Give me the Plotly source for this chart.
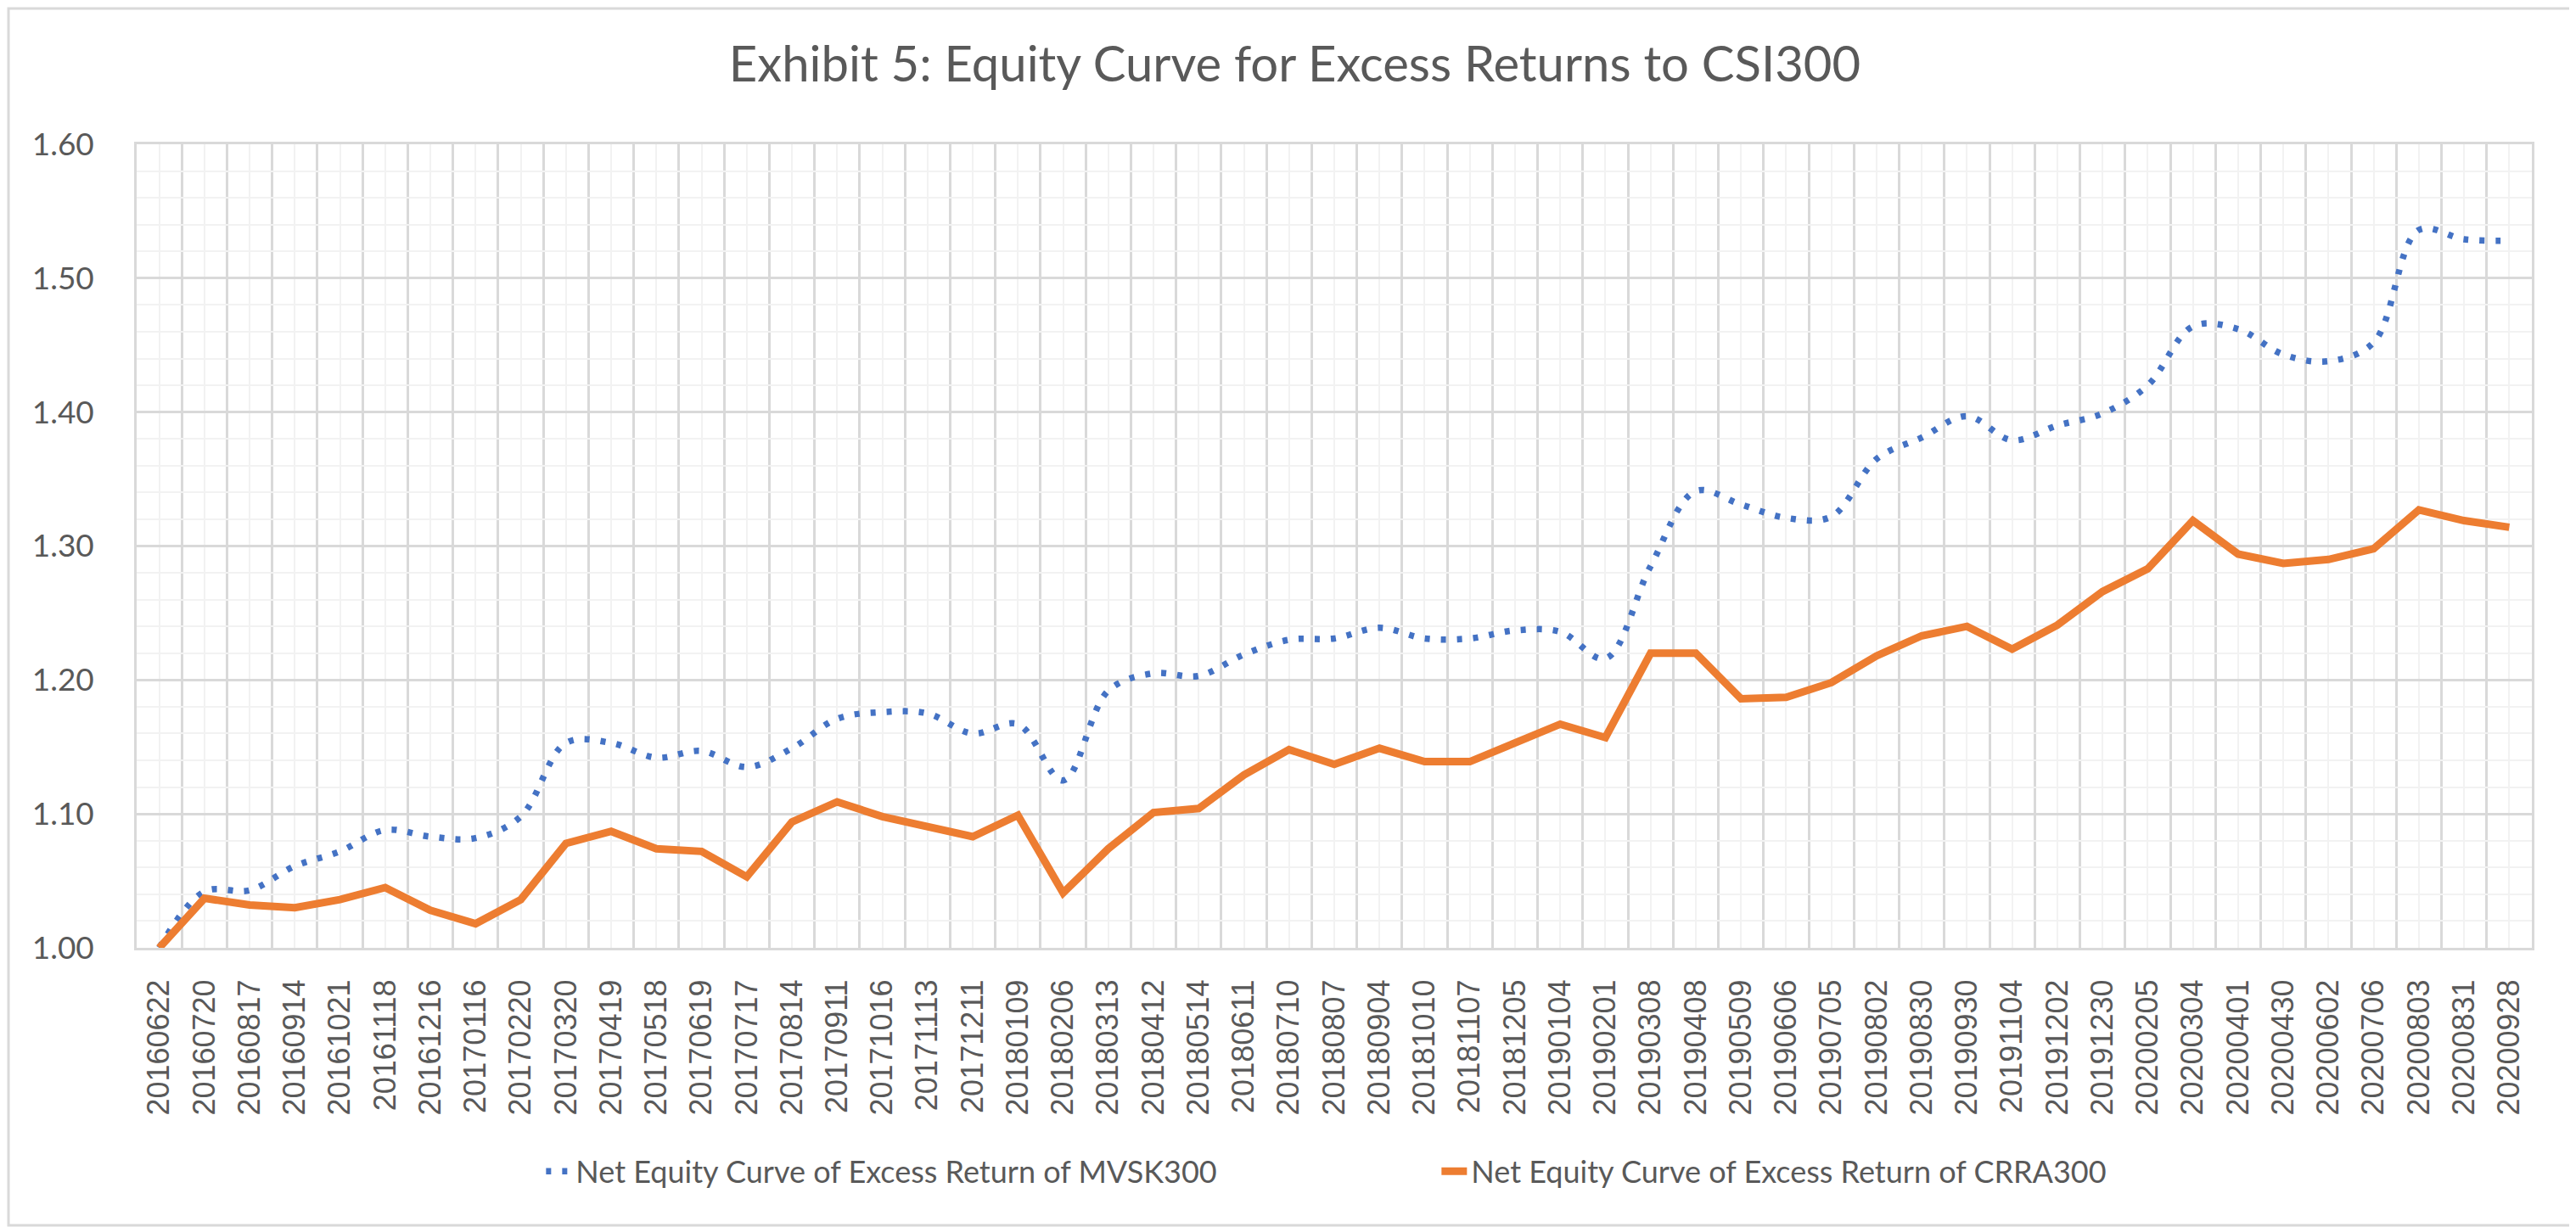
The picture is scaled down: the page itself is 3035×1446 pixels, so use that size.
import plotly.graph_objects as go

# monthly rebalance dates (category axis)
dates = [
    "20160622", "20160720", "20160817", "20160914", "20161021", "20161118", "20161216",
    "20170116", "20170220", "20170320", "20170419", "20170518", "20170619", "20170717",
    "20170814", "20170911", "20171016", "20171113", "20171211",
    "20180109", "20180206", "20180313", "20180412", "20180514", "20180611", "20180710",
    "20180807", "20180904", "20181010", "20181107", "20181205",
    "20190104", "20190201", "20190308", "20190408", "20190509", "20190606", "20190705",
    "20190802", "20190830", "20190930", "20191104", "20191202", "20191230",
    "20200205", "20200304", "20200401", "20200430", "20200602", "20200706", "20200803",
    "20200831", "20200928",
]

mvsk300 = [
    1.000, 1.042, 1.043, 1.061, 1.072, 1.088, 1.083, 1.082, 1.098, 1.153,
    1.153, 1.142, 1.147, 1.135, 1.149, 1.171, 1.176, 1.175, 1.160, 1.167,
    1.125, 1.192, 1.205, 1.203, 1.219, 1.230, 1.231, 1.239, 1.231, 1.231,
    1.237, 1.236, 1.216, 1.285, 1.341, 1.331, 1.321, 1.322, 1.365, 1.381,
    1.397, 1.379, 1.390, 1.399, 1.420, 1.464, 1.462, 1.443, 1.438, 1.452,
    1.536, 1.529, 1.528,
]

crra300 = [
    1.000, 1.037, 1.032, 1.030, 1.036, 1.045, 1.028, 1.018, 1.036, 1.078,
    1.087, 1.074, 1.072, 1.053, 1.094, 1.109, 1.098, 1.091, 1.083, 1.099,
    1.041, 1.074, 1.101, 1.104, 1.129, 1.148, 1.137, 1.149, 1.139, 1.139,
    1.153, 1.167, 1.157, 1.220, 1.220, 1.186, 1.187, 1.198, 1.218, 1.233,
    1.240, 1.223, 1.241, 1.266, 1.283, 1.319, 1.294, 1.287, 1.290, 1.298,
    1.327, 1.319, 1.314,
]

names = [
    "Net Equity Curve of Excess Return of MVSK300",
    "Net Equity Curve of Excess Return of CRRA300",
]

idx = list(range(len(dates)))
text_color = "#595959"

fig = go.Figure()
fig.add_trace(go.Scatter(
    x=idx, y=mvsk300, name=names[0], mode="lines",
    line=dict(color="#4472C4", width=7.5, dash="6px,13px", shape="spline", smoothing=1),
))
fig.add_trace(go.Scatter(
    x=idx, y=crra300, name=names[1], mode="lines",
    line=dict(color="#ED7D31", width=9),
))

# page has an 8px body margin, so margins are shifted to compensate
fig.update_layout(
    width=3035, height=1446,
    margin=dict(l=153, r=60, t=162, b=337),
    paper_bgcolor="white", plot_bgcolor="white",
    title=dict(
        text="Exhibit 5: Equity Curve for Excess Returns to CSI300",
        x=0.5, xanchor="center", y=0.953, yanchor="middle",
        font=dict(family="Lato", size=58, color=text_color),
    ),
    legend=dict(
        orientation="h", x=0.543, xanchor="center", y=-0.278, yanchor="middle",
        font=dict(family="Lato", size=36, color=text_color),
        entrywidth=1010, entrywidthmode="pixels",
    ),
    showlegend=True,
    hovermode=False,
)

fig.update_xaxes(
    range=[-0.5, len(dates) - 0.5],
    tickmode="array", tickvals=idx, ticktext=dates, tickangle=-90,
    tickfont=dict(family="Liberation Sans", size=36, color=text_color),
    ticks="", ticklabelstandoff=20,
    showgrid=True, gridcolor="#F2F2F2", gridwidth=2,
    minor=dict(tickmode="linear", tick0=-0.5, dtick=1, showgrid=True,
               gridcolor="#D9D9D9", gridwidth=2.5),
    showline=True, linecolor="#D9D9D9", linewidth=3, mirror=True,
    zeroline=False,
)
fig.update_yaxes(
    range=[1.0, 1.6], dtick=0.1, tick0=1.0, tickformat=".2f",
    tickfont=dict(family="Lato", size=37, color=text_color),
    ticks="", ticklabelstandoff=40,
    showgrid=True, gridcolor="#D9D9D9", gridwidth=2.5,
    minor=dict(dtick=0.02, showgrid=True, gridcolor="#F2F2F2", gridwidth=2),
    showline=True, linecolor="#D9D9D9", linewidth=2.5, mirror=True,
    zeroline=False,
)

# outer chart border
fig.add_shape(
    type="rect", xref="paper", yref="paper",
    x0=-151 / 2822, x1=1 + 56 / 2822, y0=-327 / 947, y1=1 + 160 / 947,
    line=dict(color="#D9D9D9", width=3), layer="below",
)

fig.write_html("out.html")
